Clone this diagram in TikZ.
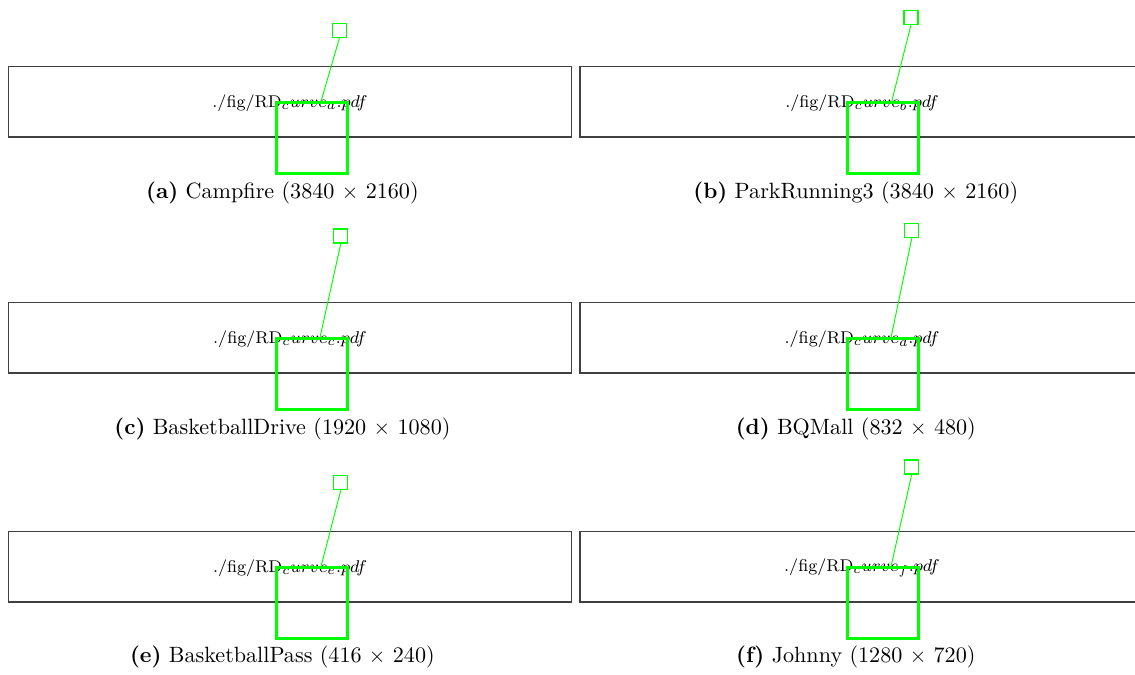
\documentclass[tikz,border=0pt]{standalone}
\begin{document}
\begin{tikzpicture}[x=0.47pt,y=-0.47pt,
  frame/.style={draw=black!75, line width=0.6pt, minimum width=563.2*0.47pt, minimum height=70.3*0.47pt, inner sep=0pt},
  bigsq/.style={draw=green, line width=1.2pt, minimum size=71.5*0.47pt, inner sep=0pt},
  smallsq/.style={draw=green, line width=0.5pt, minimum size=14*0.47pt, inner sep=0pt},
  link/.style={green, line width=0.45pt},
  ph/.style={font=\fontsize{8}{9}\selectfont, inner sep=0pt},
  subcap/.style={font=\fontsize{10.4}{12}\selectfont, inner sep=0pt}]
\useasboundingbox (0,0) rectangle (1135,674);
% row 1
\node[frame] (fa) at (290.1,101.9) {};
\node[frame] (fb) at (861.6,101.9) {};
\node[ph] (pa) at (290,103) {./fig/RD$_curve_a.pdf$};
\node[ph] (pb) at (862,103) {./fig/RD$_curve_b.pdf$};
\node[bigsq] (ba) at (312,138) {};
\node[bigsq] (bb) at (883,138) {};
\node[smallsq] (sa) at (339.5,30.2) {};
\node[smallsq] (sb) at (911,17.3) {};
\coordinate (ta) at (321,101.5);
\coordinate (tb) at (891.7,101.5);
\draw[link] (sa.south) -- (ta);
\draw[link] (sb.south) -- (tb);
\node[subcap] (ca) at (282.4,193) {\textbf{(a)} Campfire (3840 $\times$ 2160)};
\node[subcap] (cb) at (855.8,193) {\textbf{(b)} ParkRunning3 (3840 $\times$ 2160)};
% row 2
\node[frame] (fc) at (290.1,337.9) {};
\node[frame] (fd) at (861.6,337.9) {};
\node[ph] (pc) at (290,339) {./fig/RD$_curve_c.pdf$};
\node[ph] (pd) at (862,339) {./fig/RD$_curve_d.pdf$};
\node[bigsq] (bc) at (312,374) {};
\node[bigsq] (bd) at (883,374) {};
\node[smallsq] (sc) at (340.8,236) {};
\node[smallsq] (sd) at (911.8,230.8) {};
\coordinate (tc) at (320,337.5);
\coordinate (td) at (891,337.5);
\draw[link] (sc.south) -- (tc);
\draw[link] (sd.south) -- (td);
\node[subcap] (cc) at (282.4,429) {\textbf{(c)} BasketballDrive (1920 $\times$ 1080)};
\node[subcap] (cd) at (855.8,429) {\textbf{(d)} BQMall (832 $\times$ 480)};
% row 3
\node[frame] (fe) at (290.1,566.9) {};
\node[frame] (ff) at (861.6,566.9) {};
\node[ph] (pe) at (290,568) {./fig/RD$_curve_e.pdf$};
\node[ph] (pf) at (862,568) {./fig/RD$_curve_f.pdf$};
\node[bigsq] (be) at (312,603) {};
\node[bigsq] (bf) at (883,603) {};
\node[smallsq] (se) at (340.8,482.7) {};
\node[smallsq] (sf) at (911.7,467) {};
\coordinate (te) at (321,566.5);
\coordinate (tf) at (891,566.5);
\draw[link] (se.south) -- (te);
\draw[link] (sf.south) -- (tf);
\node[subcap] (ce) at (282.4,657) {\textbf{(e)} BasketballPass (416 $\times$ 240)};
\node[subcap] (cf) at (855.8,657) {\textbf{(f)} Johnny (1280 $\times$ 720)};
\end{tikzpicture}
\end{document}
